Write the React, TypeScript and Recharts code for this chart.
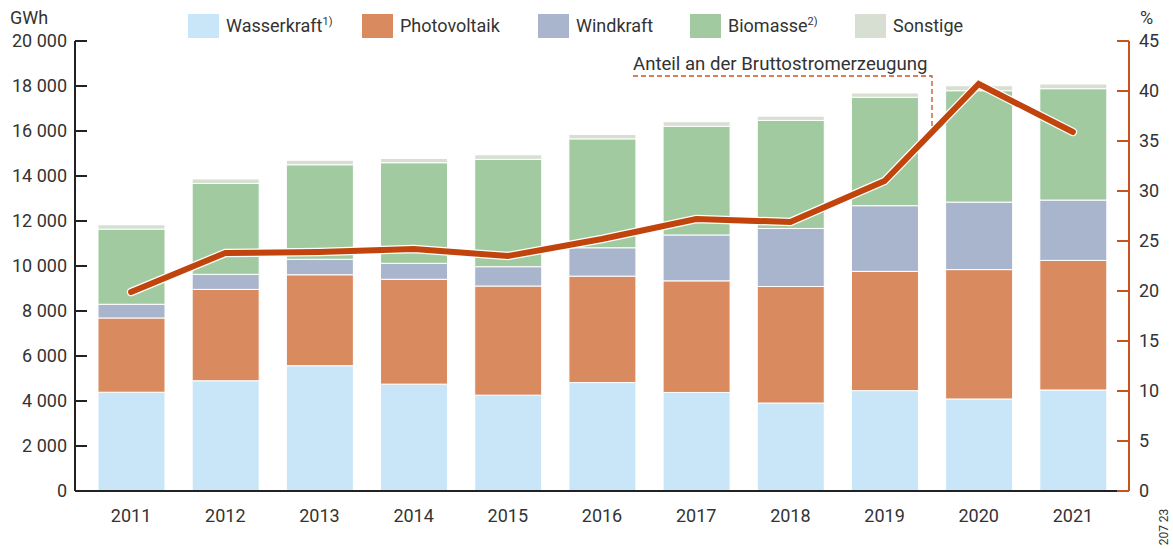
import React from 'react';
import { ComposedChart, Bar, Line, XAxis, YAxis } from 'recharts';

const years = ['2011', '2012', '2013', '2014', '2015', '2016', '2017', '2018', '2019', '2020', '2021'];
const wasserkraft = [4390, 4900, 5570, 4750, 4260, 4820, 4380, 3910, 4460, 4090, 4490];
const photovoltaik = [3300, 4060, 4040, 4660, 4850, 4730, 4960, 5180, 5300, 5750, 5760];
const windkraft = [610, 670, 690, 710, 860, 1260, 2040, 2580, 2920, 3000, 2680];
const biomasse = [3340, 4040, 4200, 4470, 4770, 4840, 4830, 4800, 4820, 4950, 4950];
const sonstige = [190, 200, 200, 190, 200, 200, 200, 190, 190, 220, 210];
const anteil = [19.9, 23.8, 23.9, 24.2, 23.5, 25.2, 27.2, 26.9, 31.0, 40.7, 35.9];

const leftTicks = [0, 2000, 4000, 6000, 8000, 10000, 12000, 14000, 16000, 18000, 20000];
const rightTicks = [0, 5, 10, 15, 20, 25, 30, 35, 40, 45];

const seriesNames = ['Wasserkraft', 'Photovoltaik', 'Windkraft', 'Biomasse', 'Sonstige'];
const seriesNotes = ['1)', '', '', '2)', ''];
const seriesKeys = ['wasserkraft', 'photovoltaik', 'windkraft', 'biomasse', 'sonstige'];
const seriesColors = ['#c9e6f8', '#d98b5f', '#a9b4cd', '#a1caa0', '#d6dfd2'];

const data = years.map((y, i) => ({
  year: y,
  wasserkraft: wasserkraft[i],
  photovoltaik: photovoltaik[i],
  windkraft: windkraft[i],
  biomasse: biomasse[i],
  sonstige: sonstige[i],
  anteil: anteil[i],
}));

const FONT = 'Roboto, "Liberation Sans", Arial, sans-serif';
const TEXT = '#333333';
const ORANGE = '#c8531e';
const LINE = '#c0440c';

const fmt = (v: number) => {
  const s = String(v);
  return s.length > 3 ? s.slice(0, s.length - 3) + ' ' + s.slice(s.length - 3) : s;
};

const LeftTick = (props: any) => {
  const { x, y, payload } = props;
  return (
    <g>
      <line x1={x + 8} x2={x + 20} y1={y} y2={y} stroke="#222" strokeWidth={2} />
      <text x={x} y={y} dy="0.36em" textAnchor="end" fontSize={18} fill={TEXT} fontFamily={FONT}>
        {fmt(payload.value)}
      </text>
    </g>
  );
};

const RightTick = (props: any) => {
  const { x, y, payload } = props;
  return (
    <g>
      <line x1={x - 10} x2={x - 22} y1={y} y2={y} stroke={ORANGE} strokeWidth={2} />
      <text x={x} y={y} dy="0.36em" textAnchor="start" fontSize={18} fill={TEXT} fontFamily={FONT}>
        {payload.value}
      </text>
    </g>
  );
};

const legendX = [188, 362, 538, 690, 855];

export default function App() {
  return (
    <div style={{ position: 'relative', width: 1173, height: 549, fontFamily: FONT }}>
      <style>{`body{margin:0;background:#fff}`}</style>
      <ComposedChart
        width={1173}
        height={549}
        data={data}
        margin={{ top: 41, right: 0, left: 0, bottom: 0 }}
        barSize={67}
      >
        <XAxis
          dataKey="year"
          height={58}
          padding={{ left: 9, right: 9 }}
          tickLine={false}
          tickSize={0}
          tickMargin={18}
          axisLine={{ stroke: '#222', strokeWidth: 2 }}
          tick={{ fontSize: 18, fill: TEXT, fontFamily: FONT }}
        />
        <YAxis
          yAxisId="left"
          orientation="left"
          width={75}
          domain={[0, 20000]}
          ticks={leftTicks}
          interval={0}
          tickLine={false}
          tickSize={0}
          tickMargin={8}
          axisLine={{ stroke: '#222', strokeWidth: 2 }}
          tick={<LeftTick />}
        />
        <YAxis
          yAxisId="right"
          orientation="right"
          width={44}
          domain={[0, 45]}
          ticks={rightTicks}
          interval={0}
          tickLine={false}
          tickSize={0}
          tickMargin={10}
          axisLine={{ stroke: ORANGE, strokeWidth: 2 }}
          tick={<RightTick />}
        />
        {seriesKeys.map((k, i) => (
          <Bar
            key={k}
            yAxisId="left"
            dataKey={k}
            stackId="a"
            fill={seriesColors[i]}
            stroke="#ffffff"
            strokeWidth={1}
            isAnimationActive={false}
          />
        ))}
        <Line
          yAxisId="right"
          dataKey="anteil"
          stroke="#ffffff"
          strokeWidth={8.5}
          dot={false}
          activeDot={false}
          strokeLinecap="round"
          isAnimationActive={false}
          legendType="none"
        />
        <Line
          yAxisId="right"
          dataKey="anteil"
          stroke={LINE}
          strokeWidth={6}
          dot={false}
          activeDot={false}
          strokeLinecap="round"
          isAnimationActive={false}
        />
      </ComposedChart>

      <svg
        width={1173}
        height={549}
        style={{ position: 'absolute', left: 0, top: 0, pointerEvents: 'none' }}
      >
        <text x={10} y={24} fontSize={18} fill={TEXT} fontFamily={FONT}>GWh</text>
        <text x={1140} y={24} fontSize={18} fill={TEXT} fontFamily={FONT}>%</text>
        {seriesNames.map((n, i) => (
          <g key={n}>
            <rect x={legendX[i]} y={14} width={31} height={24} fill={seriesColors[i]} />
            <text x={legendX[i] + 38} y={32} fontSize={18} fill={TEXT} fontFamily={FONT}>
              {n}
              {seriesNotes[i] ? (
                <tspan fontSize={11} dy={-7}>{seriesNotes[i]}</tspan>
              ) : null}
            </text>
          </g>
        ))}
        <text x={633} y={70} fontSize={18.6} fill={TEXT} fontFamily={FONT}>
          Anteil an der Bruttostromerzeugung
        </text>
        <path d="M633 76 H932 V128" fill="none" stroke={ORANGE} strokeWidth={1.3} strokeDasharray="5 3" />
        <text
          x={1168}
          y={527}
          fontSize={12}
          fill={TEXT}
          fontFamily={FONT}
          textAnchor="middle"
          transform="rotate(-90 1168 527)"
        >
          207 23
        </text>
      </svg>
    </div>
  );
}
